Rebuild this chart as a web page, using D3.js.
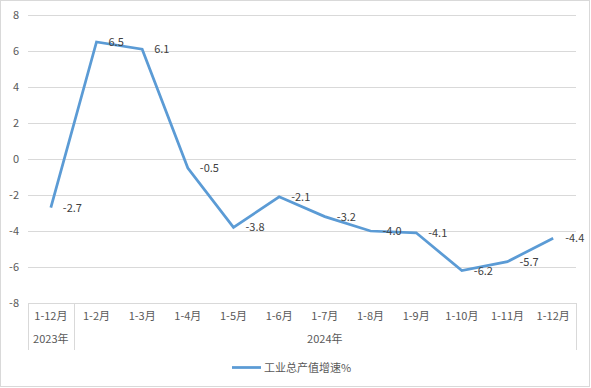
<!DOCTYPE html>
<html>
<head>
<meta charset="utf-8">
<script src="https://cdn.jsdelivr.net/npm/d3@7"></script>
<style>
  body { margin: 0; background: #fff; }
  text { font-family: "Noto Sans CJK SC", "Noto Sans", sans-serif; }
</style>
</head>
<body>
<div id="container"></div>
<script>
// Data
const categories = ["1-12月", "1-2月", "1-3月", "1-4月", "1-5月", "1-6月", "1-7月", "1-8月", "1-9月", "1-10月", "1-11月", "1-12月"];
const growth = [-2.7, 6.5, 6.1, -0.5, -3.8, -2.1, -3.2, -4.0, -4.1, -6.2, -5.7, -4.4];
const yTicks = [-8, -6, -4, -2, 0, 2, 4, 6, 8];
const yearGroups = [{ label: "2023年", from: 0, to: 0 }, { label: "2024年", from: 1, to: 11 }];
const seriesName = "工业总产值增速%";

const width = 591;
const height = 388;
const plotLeft = 28, plotRight = 576, plotTop = 15, plotBottom = 303;

const svg = d3.select("#container")
  .append("svg")
  .attr("width", width)
  .attr("height", height);

// outer frame
svg.append("rect")
  .attr("x", 0.5).attr("y", 0.5)
  .attr("width", width - 2).attr("height", height - 2)
  .attr("fill", "none").attr("stroke", "#d9d9d9");

const x = d3.scaleBand()
  .domain(d3.range(categories.length))
  .range([plotLeft, plotRight]);

const y = d3.scaleLinear()
  .domain([-8, 8])
  .range([plotBottom, plotTop]);

// grid lines + y labels (plain hyphen for negatives, like the source)
const yAxis = d3.axisLeft(y)
  .tickValues(yTicks)
  .tickSize(-(plotRight - plotLeft))
  .tickPadding(9)
  .tickFormat(d => String(d));

svg.append("g")
  .attr("transform", `translate(${plotLeft},0)`)
  .call(yAxis)
  .call(g => g.select(".domain").remove())
  .call(g => g.selectAll(".tick line").attr("stroke", "#d9d9d9"))
  .call(g => g.selectAll(".tick text")
    .attr("fill", "#595959")
    .style("font-size", "11px"));

// category axis box
const boxBottom = 350;
const xAxis = d3.axisBottom(x)
  .tickSize(0)
  .tickPadding(9)
  .tickFormat(i => categories[i]);

svg.append("g")
  .attr("transform", `translate(0,${plotBottom})`)
  .call(xAxis)
  .call(g => g.select(".domain").attr("stroke", "#d9d9d9"))
  .call(g => g.selectAll(".tick text")
    .attr("fill", "#595959")
    .style("font-size", "11px"));

// group separators
const seps = [plotLeft, x(1), plotRight];
svg.selectAll("line.sep")
  .data(seps)
  .enter()
  .append("line")
  .attr("class", "sep")
  .attr("x1", d => Math.round(d) + 0.5)
  .attr("x2", d => Math.round(d) + 0.5)
  .attr("y1", plotBottom)
  .attr("y2", boxBottom)
  .attr("stroke", "#d9d9d9");

svg.selectAll("text.year")
  .data(yearGroups)
  .enter()
  .append("text")
  .attr("class", "year")
  .attr("x", d => (x(d.from) + x(d.to) + x.bandwidth()) / 2)
  .attr("y", 343)
  .attr("text-anchor", "middle")
  .attr("fill", "#595959")
  .style("font-size", "11px")
  .text(d => d.label);

// line
const line = d3.line()
  .x((d, i) => x(i) + x.bandwidth() / 2)
  .y(d => y(d));

svg.append("path")
  .datum(growth)
  .attr("fill", "none")
  .attr("stroke", "#5b9bd5")
  .attr("stroke-width", 2.75)
  .attr("stroke-linejoin", "miter")
  .attr("d", line);

// data labels
svg.selectAll("text.label")
  .data(growth)
  .enter()
  .append("text")
  .attr("class", "label")
  .attr("x", (d, i) => x(i) + x.bandwidth() / 2 + 12)
  .attr("y", d => y(d) + 4)
  .attr("fill", "#404040")
  .style("font-size", "11px")
  .text(d => d.toFixed(1));

// legend
svg.append("line")
  .attr("x1", 232).attr("x2", 261)
  .attr("y1", 367.5).attr("y2", 367.5)
  .attr("stroke", "#5b9bd5")
  .attr("stroke-width", 2.75);

svg.append("text")
  .attr("x", 264)
  .attr("y", 371.5)
  .attr("fill", "#595959")
  .style("font-size", "11px")
  .text(seriesName);
</script>
</body>
</html>
